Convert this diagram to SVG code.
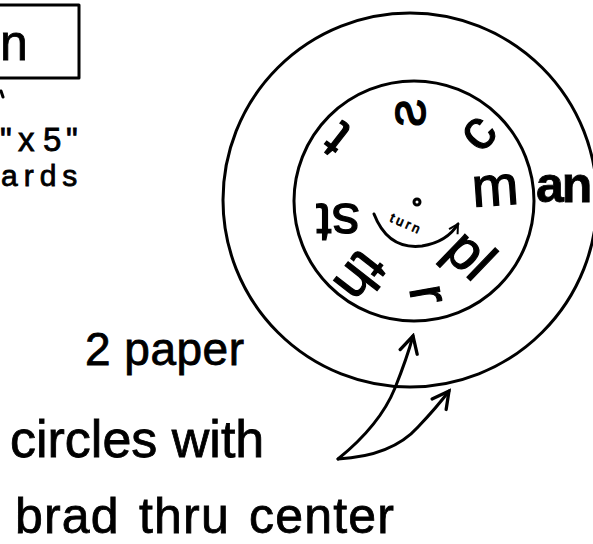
<svg xmlns="http://www.w3.org/2000/svg" width="593" height="544" viewBox="0 0 593 544">
<style>
.t{font-family:"Liberation Sans","DejaVu Sans",sans-serif;fill:#000;stroke:#000;stroke-width:0.8}
.w{font-size:56px;text-anchor:middle;dominant-baseline:central;stroke-width:1.2}
.ln{fill:none;stroke:#000;stroke-width:3;stroke-linecap:round;stroke-linejoin:round}
</style>
<defs>
<marker id="ah" viewBox="0 0 12 12" refX="10" refY="6" markerWidth="12" markerHeight="12" markerUnits="userSpaceOnUse" orient="auto">
<path d="M1,1 L10,6 L1,11" fill="none" stroke="#000" stroke-width="2"/>
</marker>
<marker id="ah2" viewBox="0 0 20 20" refX="17" refY="10" markerWidth="22" markerHeight="22" markerUnits="userSpaceOnUse" orient="auto">
<path d="M2,2 L17,10 L2,18" fill="none" stroke="#000" stroke-width="3" stroke-linecap="round"/>
</marker>
</defs>
<rect width="593" height="544" fill="#fff"/>
<g id="card">
<rect x="-10" y="5" width="89" height="73" class="ln" stroke-width="4"/>
<text class="t" x="0" y="60" font-size="50">n</text>
<line x1="1" y1="91" x2="3" y2="97" class="ln"/>
<text class="t" font-size="33" y="151" x="0 18 43 66">"x5"</text>
<text class="t" font-size="30" y="186" x="1" letter-spacing="6">ards</text>
</g>
<g id="outer-circle">
<circle cx="410" cy="200" r="187" class="ln" stroke-width="2.5"/>
<text class="t" x="536" y="202" font-size="50" font-weight="bold" letter-spacing="-2">an</text>
</g>
<g id="inner-circle">
<circle cx="414" cy="201" r="120" class="ln" stroke-width="2.5"/>
<circle cx="417" cy="202" r="3" class="ln" stroke-width="2.5"/>
<path d="M374,214 Q388,250 422,246 Q447,242 458,224" class="ln" stroke-width="2" marker-end="url(#ah)"/>
<text class="t" font-size="13" stroke-width="0.3" letter-spacing="3" transform="translate(389,221) rotate(24)">turn</text>
<text class="t w" transform="translate(336,140) rotate(-142)">t</text>
<text class="t w" font-size="62" transform="translate(405,113) rotate(-90) scale(-1,1)">s</text>
<text class="t w" transform="translate(476,131) rotate(-48)">c</text>
<text class="t w" transform="translate(495,186) rotate(-4)">m</text>
<text class="t w" transform="translate(471,254) rotate(44)">pl</text>
<text class="t w" transform="translate(430,294) rotate(80)">r</text>
<text class="t w" transform="translate(361,277) rotate(128)">th</text>
<text class="t w" transform="translate(338,223) rotate(180)">st</text>
</g>
<g id="label">
<text class="t" x="85" y="365" font-size="46" letter-spacing="0.5">2 paper</text>
<text class="t" x="10" y="457" font-size="52">circles with</text>
<text class="t" x="15" y="533" font-size="50" letter-spacing="1.2" word-spacing="4">brad thru center</text>
</g>
<g id="connectors">
<path d="M338,459 Q380,425 395,388 Q407,358 413,336" class="ln" marker-end="url(#ah2)"/>
<path d="M338,459 Q392,456 418,427 Q437,407 449,391" class="ln" marker-end="url(#ah2)"/>
</g>
</svg>
